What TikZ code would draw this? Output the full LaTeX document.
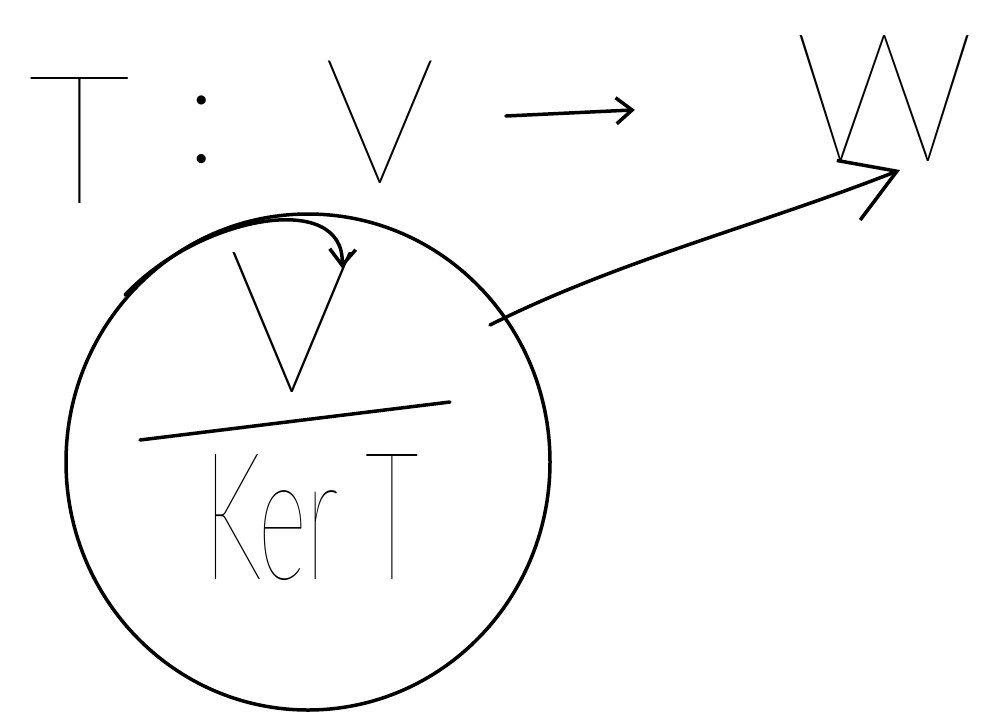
\documentclass[tikz,border=0pt]{standalone}
\usepackage{fontspec}
\usepackage{graphicx}
\newfontfamily\hand{Lato Thin}
\usetikzlibrary{arrows.meta}
\tikzset{
  ink/.style={line width=3.5pt, line cap=round, line join=round, black},
  glyph/.style={inner sep=0pt, font=\hand},
  barb/.style={-{Straight Barb[length=16pt,width=26pt,line width=3.5pt]}},
  bigbarb/.style={-{Straight Barb[length=52pt,width=64pt,line width=3.5pt]}}
}
\begin{document}
\begin{tikzpicture}[x=1pt,y=-1pt]
\useasboundingbox (0,0) rectangle (988,718);
\fill[white] (0,0) rectangle (988,718);
% top line: T : V -> W
\node[glyph] (T) at (80,140) {\fontsize{180}{180}\selectfont T};
\node[glyph] (colon) at (202,130) {\fontsize{140}{140}\selectfont :};
\node[glyph] (V) at (380,122) {\fontsize{175}{175}\selectfont V};
\node[glyph] (W) at (885,98) {\fontsize{180}{180}\selectfont W};
\draw[ink, barb, shorten <=70pt, shorten >=160pt] (V) -- (W);
% circle
\draw[ink] (308,462) ellipse [x radius=242, y radius=248];
\coordinate (cc) at (308,462);
% inner quotient
\node[glyph] (iV) at (292,322) {\fontsize{200}{200}\selectfont V};
\coordinate (l1) at (140,440);
\coordinate (l2) at (450,402);
\draw[ink] (l1) -- (l2);
\node[glyph] (ker) at (312,518) {\resizebox{215pt}{125pt}{\fontsize{100}{100}\selectfont Ker T}};
% curved arrow over top
\coordinate (cs) at (125,295);
\coordinate (ce) at (342,268);
\draw[ink, barb] (cs) .. controls (200,215) and (345,190) .. (ce);
% arrow from circle to W
\coordinate (a1) at (490,325);
\coordinate (a2) at (900,170);
\draw[ink, bigbarb] (a1) .. controls (620,260) and (760,225) .. (a2);
\end{tikzpicture}
\end{document}
